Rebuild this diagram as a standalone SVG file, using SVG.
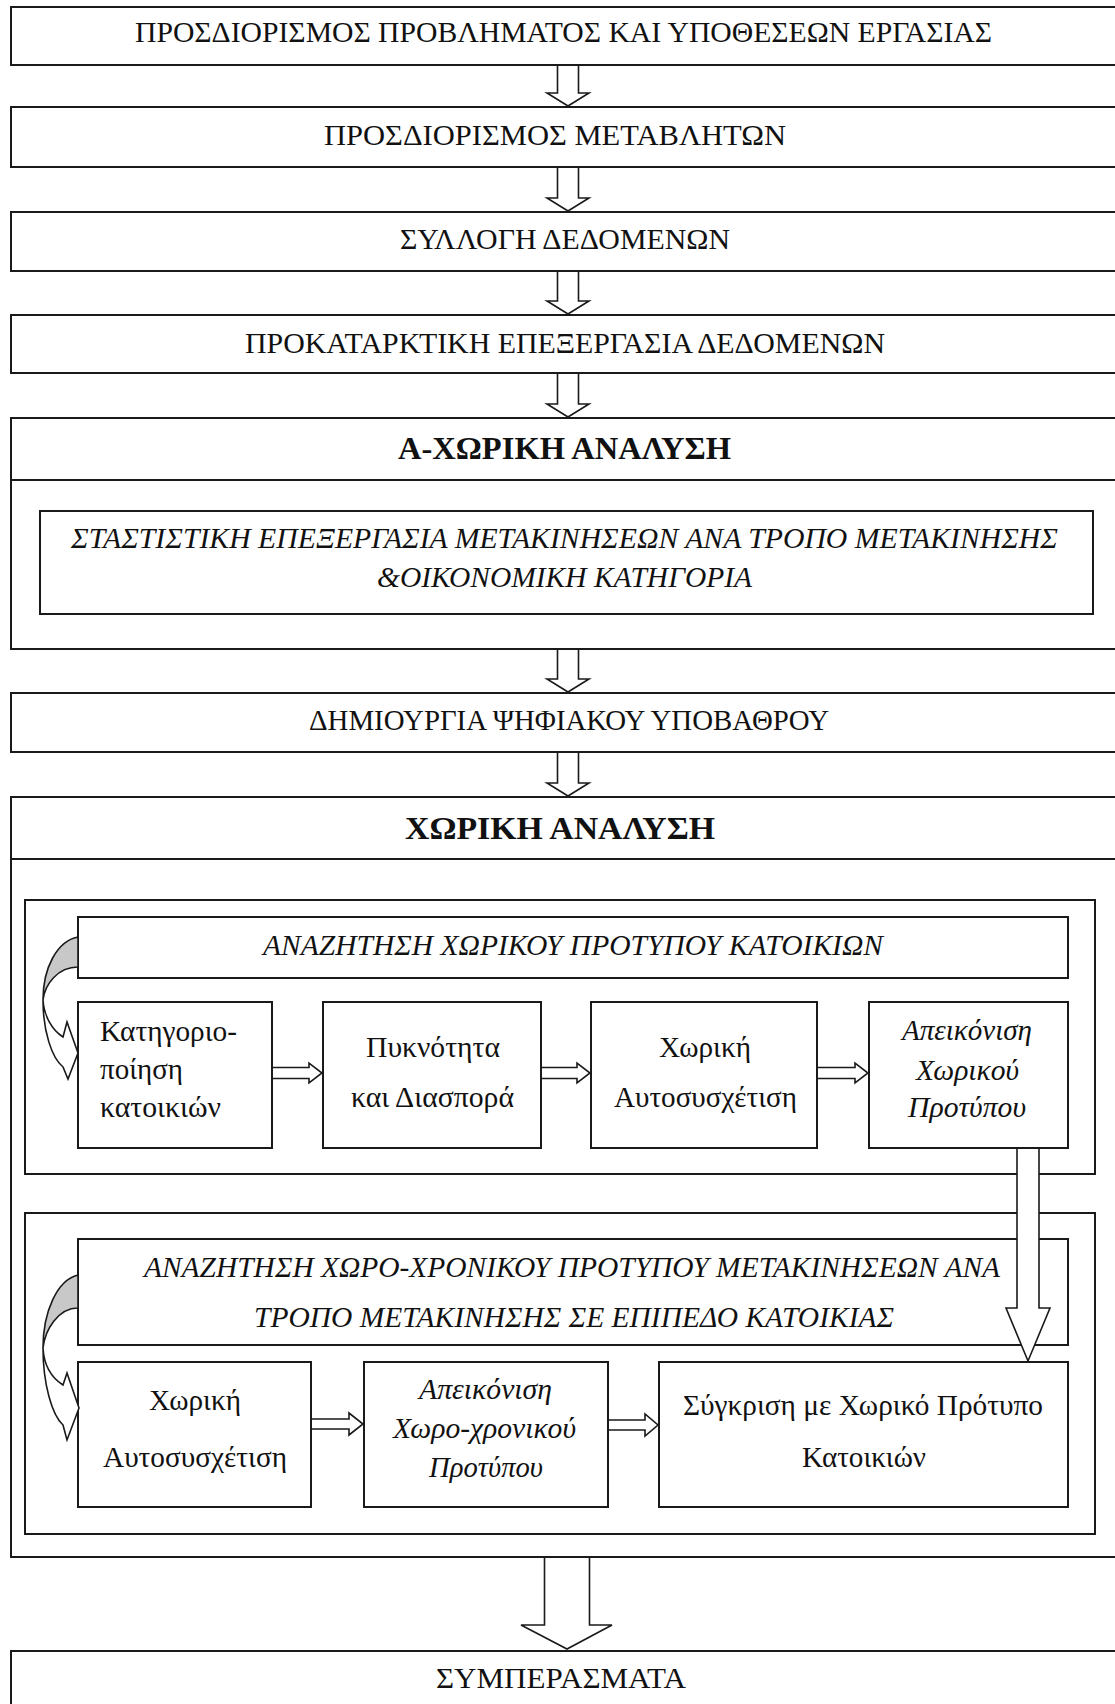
<svg xmlns="http://www.w3.org/2000/svg" width="1115" height="1704" viewBox="0 0 1115 1704">
<style>
.box{fill:#fff;stroke:#1a1a1a;stroke-width:2}
.ln{fill:none;stroke:#1a1a1a;stroke-width:2}
.t{font-family:"Liberation Serif","Times New Roman",serif;fill:#111;font-size:29px;text-anchor:middle}
.s{font-size:30px}
.l{text-anchor:start}
.it{font-style:italic}
.b{font-weight:bold;font-size:31px}
.arr{fill:#fff;stroke:#1a1a1a;stroke-width:1.6;stroke-linejoin:miter}
.back{fill:#c8c8c8;stroke:#1a1a1a;stroke-width:1.6}
</style>
<rect width="1115" height="1704" fill="#fff"/>

<g id="n1"><rect class="box" x="11" y="7" width="1110" height="58"/>
<text class="t" x="563.5" y="42" textLength="857" lengthAdjust="spacingAndGlyphs">ΠΡΟΣΔΙΟΡΙΣΜΟΣ ΠΡΟΒΛΗΜΑΤΟΣ ΚΑΙ ΥΠΟΘΕΣΕΩΝ ΕΡΓΑΣΙΑΣ</text></g>

<g id="n2"><rect class="box" x="11" y="107" width="1110" height="60"/>
<text class="t" x="555" y="145" textLength="462" lengthAdjust="spacingAndGlyphs">ΠΡΟΣΔΙΟΡΙΣΜΟΣ ΜΕΤΑΒΛΗΤΩΝ</text></g>

<g id="n3"><rect class="box" x="11" y="212" width="1110" height="59"/>
<text class="t" x="565" y="249" textLength="330" lengthAdjust="spacingAndGlyphs">ΣΥΛΛΟΓΗ ΔΕΔΟΜΕΝΩΝ</text></g>

<g id="n4"><rect class="box" x="11" y="315" width="1110" height="58"/>
<text class="t" x="565" y="353" textLength="640" lengthAdjust="spacingAndGlyphs">ΠΡΟΚΑΤΑΡΚΤΙΚΗ ΕΠΕΞΕΡΓΑΣΙΑ ΔΕΔΟΜΕΝΩΝ</text></g>

<g id="n5"><rect class="box" x="11" y="418" width="1110" height="231"/>
<line class="ln" x1="11" y1="480" x2="1121" y2="480"/>
<text class="t b" x="564.5" y="459" textLength="333" lengthAdjust="spacingAndGlyphs">Α-ΧΩΡΙΚΗ ΑΝΑΛΥΣΗ</text></g>

<g id="n5a"><rect class="box" x="40" y="511" width="1053" height="103"/>
<text class="t it" x="564.5" y="548" textLength="987" lengthAdjust="spacingAndGlyphs">ΣΤΑΣΤΙΣΤΙΚΗ ΕΠΕΞΕΡΓΑΣΙΑ ΜΕΤΑΚΙΝΗΣΕΩΝ ΑΝΑ ΤΡΟΠΟ ΜΕΤΑΚΙΝΗΣΗΣ</text>
<text class="t it" x="564.5" y="587" textLength="375" lengthAdjust="spacingAndGlyphs">&amp;ΟΙΚΟΝΟΜΙΚΗ ΚΑΤΗΓΟΡΙΑ</text></g>

<g id="n6"><rect class="box" x="11" y="693" width="1110" height="59"/>
<text class="t" x="569" y="730" textLength="520" lengthAdjust="spacingAndGlyphs">ΔΗΜΙΟΥΡΓΙΑ ΨΗΦΙΑΚΟΥ ΥΠΟΒΑΘΡΟΥ</text></g>

<g id="n7"><rect class="box" x="11" y="797" width="1110" height="760"/>
<line class="ln" x1="11" y1="859" x2="1121" y2="859"/>
<text class="t b" x="560" y="839" textLength="310" lengthAdjust="spacingAndGlyphs">ΧΩΡΙΚΗ ΑΝΑΛΥΣΗ</text></g>

<g id="panelA"><rect class="box" x="25" y="900" width="1070" height="274"/></g>
<g id="hA"><rect class="box" x="78" y="917" width="990" height="61"/>
<text class="t it" x="573" y="955" textLength="620" lengthAdjust="spacingAndGlyphs">ΑΝΑΖΗΤΗΣΗ ΧΩΡΙΚΟΥ ΠΡΟΤΥΠΟΥ ΚΑΤΟΙΚΙΩΝ</text></g>

<g id="na"><rect class="box" x="78" y="1002" width="194" height="146"/>
<text class="t s l" x="100" y="1041" textLength="137" lengthAdjust="spacingAndGlyphs">Κατηγοριο-</text>
<text class="t s l" x="100" y="1079" textLength="83" lengthAdjust="spacingAndGlyphs">ποίηση</text>
<text class="t s l" x="100" y="1117" textLength="121" lengthAdjust="spacingAndGlyphs">κατοικιών</text></g>

<g id="nb"><rect class="box" x="323" y="1002" width="218" height="146"/>
<text class="t s" x="433" y="1057" textLength="134" lengthAdjust="spacingAndGlyphs">Πυκνότητα</text>
<text class="t s" x="432.5" y="1107" textLength="163" lengthAdjust="spacingAndGlyphs">και Διασπορά</text></g>

<g id="nc"><rect class="box" x="591" y="1002" width="226" height="146"/>
<text class="t s" x="705" y="1057" textLength="92" lengthAdjust="spacingAndGlyphs">Χωρική</text>
<text class="t s" x="705.5" y="1107" textLength="183" lengthAdjust="spacingAndGlyphs">Αυτοσυσχέτιση</text></g>

<g id="nd"><rect class="box" x="869" y="1002" width="199" height="146"/>
<text class="t s it" x="967" y="1040" textLength="130" lengthAdjust="spacingAndGlyphs">Απεικόνιση</text>
<text class="t s it" x="967.5" y="1080" textLength="103" lengthAdjust="spacingAndGlyphs">Χωρικού</text>
<text class="t s it" x="967" y="1117" textLength="118" lengthAdjust="spacingAndGlyphs">Προτύπου</text></g>

<g id="panelB"><rect class="box" x="25" y="1213" width="1070" height="321"/></g>
<g id="hB"><rect class="box" x="78" y="1239" width="990" height="106"/>
<text class="t it" x="572" y="1277" textLength="856" lengthAdjust="spacingAndGlyphs">ΑΝΑΖΗΤΗΣΗ ΧΩΡΟ-ΧΡΟΝΙΚΟΥ ΠΡΟΤΥΠΟΥ ΜΕΤΑΚΙΝΗΣΕΩΝ ΑΝΑ</text>
<text class="t it" x="574" y="1327" textLength="640" lengthAdjust="spacingAndGlyphs">ΤΡΟΠΟ ΜΕΤΑΚΙΝΗΣΗΣ ΣΕ ΕΠΙΠΕΔΟ ΚΑΤΟΙΚΙΑΣ</text></g>

<g id="ne"><rect class="box" x="78" y="1362" width="233" height="145"/>
<text class="t s" x="195" y="1410" textLength="92" lengthAdjust="spacingAndGlyphs">Χωρική</text>
<text class="t s" x="195" y="1467" textLength="184" lengthAdjust="spacingAndGlyphs">Αυτοσυσχέτιση</text></g>

<g id="nf"><rect class="box" x="364" y="1362" width="244" height="145"/>
<text class="t s it" x="485.5" y="1399" textLength="133" lengthAdjust="spacingAndGlyphs">Απεικόνιση</text>
<text class="t s it" x="484.5" y="1438" textLength="183" lengthAdjust="spacingAndGlyphs">Χωρο-χρονικού</text>
<text class="t s it" x="486" y="1477" textLength="114" lengthAdjust="spacingAndGlyphs">Προτύπου</text></g>

<g id="ng"><rect class="box" x="659" y="1362" width="409" height="145"/>
<text class="t s" x="863" y="1415" textLength="360" lengthAdjust="spacingAndGlyphs">Σύγκριση με Χωρικό Πρότυπο</text>
<text class="t s" x="864" y="1467" textLength="124" lengthAdjust="spacingAndGlyphs">Κατοικιών</text></g>

<g id="n8"><rect class="box" x="11" y="1651" width="1110" height="70"/>
<text class="t" x="561" y="1688" textLength="250" lengthAdjust="spacingAndGlyphs">ΣΥΜΠΕΡΑΣΜΑΤΑ</text></g>

<g id="connectors">
<path class="arr" d="M557.5,66 V93 H547 L568,106 L589,93 H578.5 V66"/>
<path class="arr" d="M557.5,168 V198 H547 L568,211 L589,198 H578.5 V168"/>
<path class="arr" d="M557.5,272 V301 H547 L568,314 L589,301 H578.5 V272"/>
<path class="arr" d="M557.5,374 V404 H547 L568,417 L589,404 H578.5 V374"/>
<path class="arr" d="M557.5,650 V679 H547 L568,692 L589,679 H578.5 V650"/>
<path class="arr" d="M557.5,753 V783 H547 L568,796 L589,783 H578.5 V753"/>

<path class="arr" d="M273,1067.5 H309 V1063 L322,1073 L309,1083 V1078.5 H273"/>
<path class="arr" d="M542,1067.5 H577 V1063 L590,1073 L577,1083 V1078.5 H542"/>
<path class="arr" d="M818,1067.5 H855 V1063 L868,1073 L855,1083 V1078.5 H818"/>

<path class="arr" d="M312,1419 H349 V1413 L363,1424 L349,1435 V1429 H312"/>
<path class="arr" d="M609,1420 H645 V1414 L658,1425 L645,1436 V1430 H609"/>

<path class="arr" d="M1017,1149 V1308 H1006 L1028,1361 L1050,1308 H1039 V1149"/>

<path class="arr" d="M544.5,1558 V1625 H521 L567,1649 L612,1625 H589.5 V1558"/>

<path class="back" d="M78,937 C57,941 43,968 43,1000 C45,984 58,967 78,967 Z"/>
<path class="arr" d="M43,1000 C43,1032 52,1058 63,1067 L68,1079 L78,1053 L67,1022 L63,1037 C52,1030 44,1016 43,1000 Z"/>

<path class="back" d="M78,1275 C57,1280 43,1312 43,1348 C45,1330 58,1308 78,1308 Z"/>
<path class="arr" d="M43,1348 C43,1384 52,1415 63,1425 L67,1440 L79,1408 L67,1373 L63,1385 C52,1378 44,1366 43,1348 Z"/>
</g>
</svg>
